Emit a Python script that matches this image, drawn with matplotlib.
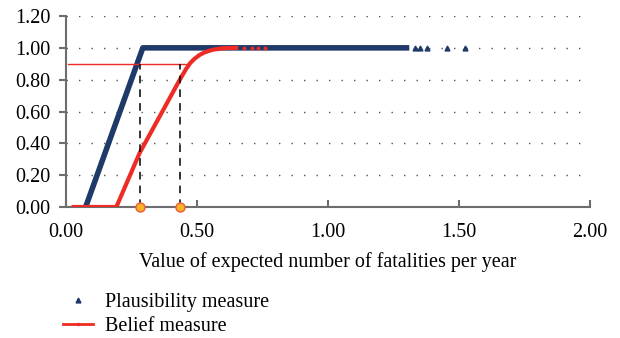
import numpy as np
import matplotlib
matplotlib.use('Agg')
import matplotlib.pyplot as plt

# values
plaus_x = [0.076, 0.294, 0.60, 1.00, 1.31]
plaus_y = [0.0, 1.0, 1.0, 1.0, 1.0]
plaus_sparse_x = [1.33, 1.35, 1.378, 1.454, 1.523]
plaus_sparse_y = [1.0, 1.0, 1.0, 1.0, 1.0]

belief_x = [0.03, 0.193, 0.282, 0.435, 0.46, 0.475, 0.49, 0.51, 0.53, 0.56, 0.60, 0.65]
belief_y = [0.0, 0.0, 0.34, 0.80, 0.87, 0.905, 0.93, 0.955, 0.972, 0.988, 0.998, 1.0]
belief_sparse_x = [0.68, 0.71, 0.735, 0.76]
belief_sparse_y = [1.0, 1.0, 1.0, 1.0]

level = 0.90
cut_x = [0.282, 0.435]

navy = '#1f3a68'
red = '#ee2b24'
grey = '#6d6d6d'

plt.rcParams['font.family'] = ['Liberation Serif', 'DejaVu Serif']

fig = plt.figure(figsize=(6.2, 3.38), dpi=100)
ax = fig.add_axes([0.106, 0.3876, 0.846, 0.565])

ax.plot(plaus_x, plaus_y, color=navy, lw=4, solid_capstyle='butt', zorder=3)
ax.plot(plaus_sparse_x, plaus_sparse_y, ls='none', marker='^', ms=3.5,
        color=navy, zorder=3)
ax.plot(belief_x, belief_y, color=red, lw=3, zorder=4)
ax.plot(belief_sparse_x, belief_sparse_y, ls='none', marker='o', ms=1.8,
        color=red, zorder=4)

ax.plot([0.008, 0.47], [level, level], color=red, lw=1, zorder=5)
for cx in cut_x:
    ax.plot([cx, cx], [0, level], color='black', lw=1.1, ls=(0, (5, 4)), zorder=5)
ax.plot(cut_x, [0, 0], ls='none', marker='o', ms=6.5, mfc='#f7b324',
        mec='#ef5a3a', mew=1, zorder=6, clip_on=False)

# legend handles
h1, = ax.plot([], [], ls='none', marker='^', ms=3.5, color=navy)
h2, = ax.plot([], [], color=red, lw=2, marker='.', ms=3)
fig.legend([h1, h2], ['Plausibility measure', 'Belief measure'],
           loc='upper left', bbox_to_anchor=(0.088, 0.158), frameon=False,
           fontsize=14.5, handlelength=1.5, labelspacing=0.25,
           borderaxespad=0, handletextpad=0.6)

ax.set_xlim(0, 2.0)
ax.set_ylim(0, 1.2)
ax.set_xticks([0, 0.5, 1.0, 1.5, 2.0])
ax.set_yticks([0, 0.2, 0.4, 0.6, 0.8, 1.0, 1.2])
ax.set_xticklabels(['%.2f' % v for v in ax.get_xticks()])
ax.set_yticklabels(['%.2f' % v for v in ax.get_yticks()])
ax.yaxis.grid(True, color='#555555', ls=(0, (1, 8)), lw=1)
ax.set_axisbelow(True)

for s in ['top', 'right']:
    ax.spines[s].set_visible(False)
for s in ['left', 'bottom']:
    ax.spines[s].set_color(grey)
    ax.spines[s].set_linewidth(1.5)
ax.tick_params(axis='x', direction='in', length=5, width=1.5, color=grey,
               labelsize=14.5, pad=11.5)
ax.tick_params(axis='y', direction='out', length=5, width=1.5, color=grey,
               labelsize=14.5, pad=6)
ax.set_xlabel('Value of expected number of fatalities per year',
              fontsize=14.5, labelpad=7)

fig.savefig('out.png', dpi=100)
